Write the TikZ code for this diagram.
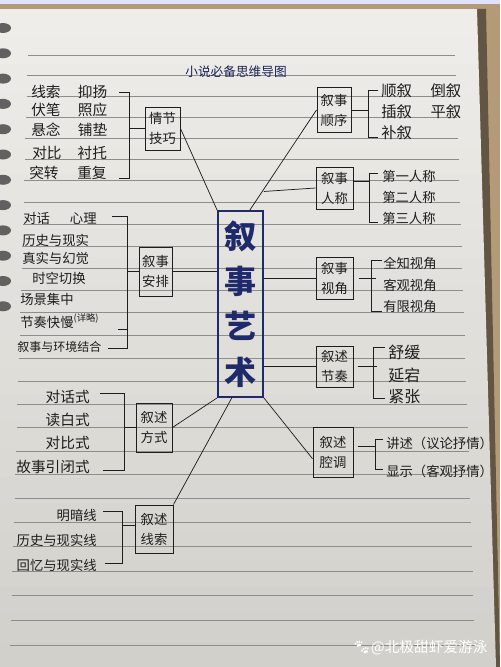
\documentclass[tikz,border=0pt]{standalone}
\usepackage{fontspec}
\setmainfont{Noto Sans CJK SC}
\newfontfamily\emojifont{Noto Emoji}
\definecolor{paperT}{HTML}{EEEDE9}
\definecolor{paperB}{HTML}{D2D0CB}
\definecolor{navy}{HTML}{1F2A6B}
\definecolor{ink}{HTML}{1E1E1E}
\definecolor{rulec}{HTML}{8E8D8A}
\definecolor{tanbg}{HTML}{B39B77}

\begin{document}
\begin{tikzpicture}[x=0.75pt,y=0.75pt,yscale=-1,xscale=1,
    rule/.style={draw=rulec,line width=0.45pt},
    ring/.style={fill=black!62},
    hub/.style={draw=navy,line width=1.3pt,text=navy,inner sep=0pt,align=center,font=\fontsize{24}{34}\selectfont\bfseries},
    box/.style={draw=ink,line width=0.75pt,text=ink,inner sep=0pt,align=center,font=\fontsize{10}{15}\selectfont},
    item/.style={inner sep=0pt,text=ink,font=\fontsize{10}{12}\selectfont},
    link/.style={draw=ink,line width=0.55pt},
    brace/.style={draw=ink,line width=0.75pt}]
        \useasboundingbox (0,0) rectangle (500,667);

        %Shape: Background
        \fill[tanbg] (0,0) rectangle (500,667);
        \fill[white!88!blue] (0,0) rectangle (500,4);
        \fill[black!45!tanbg] (474,9) -- (486,9) -- (500,667) -- (494,667) -- cycle;
        %Shape: Sheet, light at the top and greyer at the bottom
        \begin{scope}
            \clip (0,9) -- (477,9) -- (496,667) -- (0,667) -- cycle;
            \foreach \i in {0,...,23}{
                \pgfmathtruncatemacro{\mix}{100-\i*100/23}
                \fill[paperT!\mix!paperB] (0,{9+27.5*\i}) rectangle (500,{9+27.5*(\i+1)});
            }
        \end{scope}
        %Ruled lines
        \foreach \k in {0,...,26}{
            \pgfmathsetmacro{\ry}{55+20.44*\k+0.0864*\k*\k}
            \pgfmathsetmacro{\rl}{28-0.03*(\ry-53)}
            \pgfmathsetmacro{\rr}{455+0.034*(\ry-53)}
            \draw[rule] (\rl,\ry) -- (\rr,\ry);
        }
        %Binding rings
        \foreach \k in {0,...,11}{
            \fill[ring] (3,{28+25.3*\k}) ellipse [x radius=8, y radius=5];
        }

        % Text Node
        \node[text=navy!80!black,inner sep=0pt,font=\fontsize{9.5}{11}\selectfont] (ttl) at (236,72) {小说必备思维导图};

        %Shape: Centre box
        \node[hub,minimum width=33.75pt,minimum height=139.5pt] (hub) at (240.5,304) {叙\\事\\艺\\术};

        %Shape: Boxes left
        \node[box,minimum width=26.25pt,minimum height=32.25pt] (qjjq) at (162.5,128.5) {情节\\技巧};
        \node[box,minimum width=24.75pt,minimum height=36.75pt] (xsap) at (155.5,271.5) {叙事\\安排};
        \node[box,minimum width=27pt,minimum height=36.75pt] (xsfs) at (154,427.5) {叙述\\方式};
        \node[box,minimum width=28.5pt,minimum height=36pt] (xsxs) at (154,529) {叙述\\线索};
        %Shape: Boxes right
        \node[box,minimum width=25.5pt,minimum height=33pt] (xssx) at (334,110) {叙事\\顺序};
        \node[box,minimum width=27.75pt,minimum height=31.5pt] (xsrc) at (334.5,188) {叙事\\人称};
        \node[box,minimum width=27.75pt,minimum height=31.5pt] (xssj) at (334.5,278) {叙事\\视角};
        \node[box,minimum width=27.75pt,minimum height=30.75pt] (xsjz) at (334.5,366.5) {叙述\\节奏};
        \node[box,minimum width=30pt,minimum height=37.5pt] (xsqd) at (333,452) {叙述\\腔调};

        %Straight Lines: hub to boxes
        \draw[link] (qjjq.east) -- (hub.north west);
        \draw[link] (xssx.west) -- ([xshift=7pt]hub.north);
        \draw[link] (xsrc.west) -- ([yshift=-14pt]hub.north east);
        \draw[link] (xssj.west) -- (xssj.west -| hub.east);
        \draw[link] (xsjz.west) -- (xsjz.west -| hub.east);
        \draw[link] ([yshift=5pt]xsqd.west) -- (hub.south east);
        \draw[link] (xsap.east) -- (xsap.east -| hub.west);
        \draw[link] (xsfs.east) -- (hub.south west);
        \draw[link] (xsxs.north east) -- ([xshift=11pt]hub.south west);

        %Brackets left
        \coordinate (qjT) at (119,92); \coordinate (qjB) at (119,178); \coordinate (qjbar) at (129,132);
        \draw[brace] (qjT) -- ++(10,0) |- (qjB);
        \draw[brace] (qjjq.west) -- (qjjq.west -| qjbar);
        \coordinate (apT) at (112,216); \coordinate (apM) at (118,329); \coordinate (apB) at (108,348); \coordinate (apbar) at (127,271);
        \draw[brace] (apT) -- ++(15,0) |- (apB);
        \draw[brace] (apM) -- ++(9,0);
        \draw[brace] (xsap.west) -- (xsap.west -| apbar);
        \coordinate (fsT) at (100,393); \coordinate (fsB) at (103,470); \coordinate (fsbar) at (124,431);
        \draw[brace] (fsT) -- ++(24,0) |- (fsB);
        \draw[brace] (xsfs.west) -- (xsfs.west -| fsbar);
        \coordinate (xsT) at (103,511); \coordinate (xsB) at (105,563); \coordinate (xsbar) at (122,533);
        \draw[brace] (xsT) -- ++(19,0) |- (xsB);
        \draw[brace] ([yshift=-3pt]xsxs.west) -- ([yshift=-3pt]xsxs.west -| xsbar);
        %Brackets right
        \coordinate (sxT) at (378,90); \coordinate (sxB) at (378,137); \coordinate (sxbar) at (368,112);
        \draw[brace] (sxT) -- ++(-10,0) |- (sxB);
        \draw[brace] (xssx.east) -- (xssx.east -| sxbar);
        \coordinate (rcT) at (378,173); \coordinate (rcB) at (378,222); \coordinate (rcbar) at (369,195);
        \draw[brace] (rcT) -- ++(-9,0) |- (rcB);
        \draw[brace] ([yshift=-5pt]xsrc.east) -- ([yshift=-5pt]xsrc.east -| rcbar);
        \coordinate (sjT) at (382,260); \coordinate (sjB) at (382,311); \coordinate (sjbar) at (371,282);
        \draw[brace] (sjT) -- ++(-11,0) |- (sjB);
        \draw[brace] ([xshift=4pt]xssj.east) -- ([xshift=4pt]xssj.east -| sjbar);
        \coordinate (jzT) at (385,347); \coordinate (jzB) at (385,398); \coordinate (jzbar) at (373,368);
        \draw[brace] (jzT) -- ++(-12,0) |- (jzB);
        \draw[brace] ([xshift=3pt]xsjz.east) -- ([xshift=3pt]xsjz.east -| jzbar);
        \coordinate (qdT) at (383,439); \coordinate (qdB) at (383,469); \coordinate (qdbar) at (375,458);
        \draw[brace] (qdT) -- ++(-8,0) |- (qdB);
        \draw[brace] ([xshift=3pt,yshift=-4pt]xsqd.east) -- ([yshift=-4pt]xsqd.east -| qdbar);

        % Text Node: 情节技巧
        \node[item,anchor=west,font=\fontsize{11}{12}\selectfont] (qj1) at (31,92) {线索\hspace{13pt}抑扬};
        \node[item,anchor=west,font=\fontsize{11}{12}\selectfont] (qj2) at (31,110) {伏笔\hspace{13pt}照应};
        \node[item,anchor=west,font=\fontsize{11}{12}\selectfont] (qj3) at (31,130) {悬念\hspace{13pt}铺垫};
        \node[item,anchor=west,font=\fontsize{11}{12}\selectfont] (qj4) at (32,153) {对比\hspace{12pt}衬托};
        \node[item,anchor=west,font=\fontsize{11}{12}\selectfont] (qj5) at (29,173) {突转\hspace{14pt}重复};
        % Text Node: 叙事安排
        \node[item,anchor=west] (ap1) at (23,218) {对话\hspace{15pt}心理};
        \node[item,anchor=west] (ap2) at (22,240) {历史与现实};
        \node[item,anchor=west] (ap3) at (22,258) {真实与幻觉};
        \node[item,anchor=west] (ap4) at (32,278) {时空切换};
        \node[item,anchor=west] (ap5) at (20,299) {场景集中};
        \node[item,anchor=west] (ap6) at (20,321) {节奏快慢\raisebox{4pt}{\fontsize{7}{7}\selectfont (详略)}};
        \node[item,anchor=west,font=\fontsize{9}{11}\selectfont] (ap7) at (17,347) {叙事与环境结合};
        % Text Node: 叙述方式
        \node[item,anchor=east,font=\fontsize{11}{12}\selectfont] (fs1) at (90,397) {对话式};
        \node[item,anchor=east,font=\fontsize{11}{12}\selectfont] (fs2) at (90,420) {读白式};
        \node[item,anchor=east,font=\fontsize{11}{12}\selectfont] (fs3) at (90,443) {对比式};
        \node[item,anchor=east,font=\fontsize{11}{12}\selectfont] (fs4) at (90,467) {故事引闭式};
        % Text Node: 叙述线索
        \node[item,anchor=east] (xs1) at (97,515) {明暗线};
        \node[item,anchor=east] (xs2) at (97,540) {历史与现实线};
        \node[item,anchor=east] (xs3) at (97,565) {回忆与现实线};
        % Text Node: 叙事顺序
        \node[item,anchor=west,font=\fontsize{11.5}{12}\selectfont] (sx1) at (381,91) {顺叙\hspace{14pt}倒叙};
        \node[item,anchor=west,font=\fontsize{11.5}{12}\selectfont] (sx2) at (381,112) {插叙\hspace{14pt}平叙};
        \node[item,anchor=west,font=\fontsize{11.5}{12}\selectfont] (sx3) at (381,133) {补叙};
        % Text Node: 叙事人称
        \node[item,anchor=west] (rc1) at (382,176) {第一人称};
        \node[item,anchor=west] (rc2) at (382,197) {第二人称};
        \node[item,anchor=west] (rc3) at (382,218) {第三人称};
        % Text Node: 叙事视角
        \node[item,anchor=west] (sj1) at (383,263) {全知视角};
        \node[item,anchor=west] (sj2) at (383,285) {客观视角};
        \node[item,anchor=west] (sj3) at (383,306) {有限视角};
        % Text Node: 叙述节奏
        \node[item,anchor=west,font=\fontsize{12}{13}\selectfont] (jz1) at (388,352) {舒缓};
        \node[item,anchor=west,font=\fontsize{12}{13}\selectfont] (jz2) at (388,375) {延宕};
        \node[item,anchor=west,font=\fontsize{12}{13}\selectfont] (jz3) at (388,397) {紧张};
        % Text Node: 叙述腔调
        \node[item,anchor=west] (qd1) at (386,443) {讲述（议论抒情）};
        \node[item,anchor=west] (qd2) at (386,471) {显示（客观抒情）};

        % Text Node: watermark
        \node[anchor=west,inner sep=0pt,text=white,font=\fontsize{11}{12}\selectfont] (wm) at (352,648) {{\emojifont 🐾}@北极甜虾爱游泳};
\end{tikzpicture}
\end{document}
